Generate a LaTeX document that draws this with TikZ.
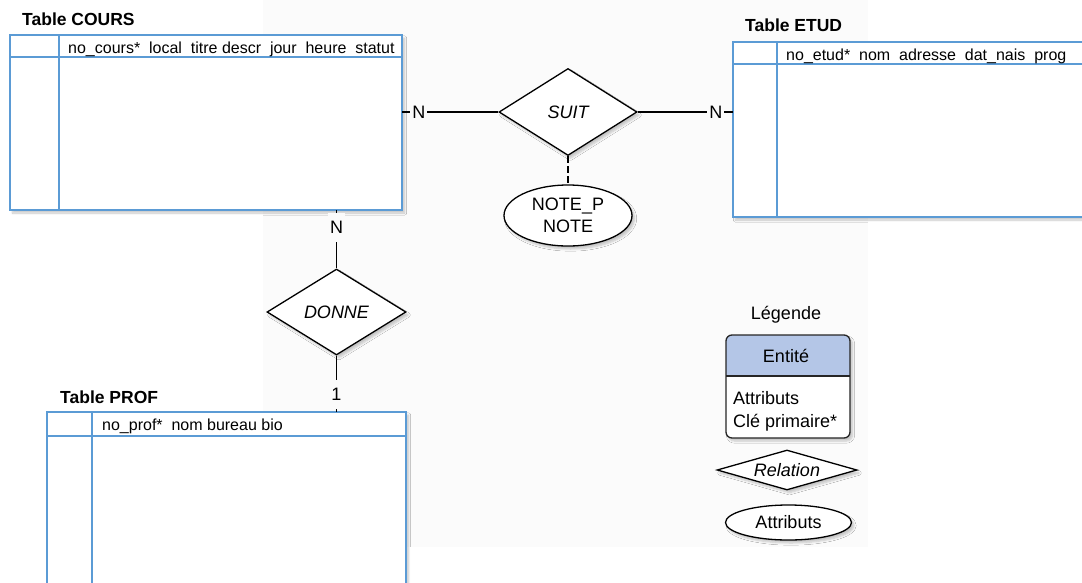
\documentclass[tikz,border=0pt]{standalone}
\usepackage{fontspec}
\setmainfont{Liberation Sans}
\usetikzlibrary{shapes.geometric,shadows.blur,calc}

\definecolor{tblue}{RGB}{91,155,213}
\definecolor{entfill}{RGB}{180,198,231}
\definecolor{pane}{RGB}{251,251,251}

\begin{document}
\begin{tikzpicture}[x=1pt,y=-1pt,
  softshadow/.style={blur shadow={shadow xshift=2.5pt, shadow yshift=-3pt, shadow blur steps=6, shadow opacity=22}},
  tablebox/.style={rectangle, draw=tblue, line width=1.4pt, fill=white,
    inner sep=0pt, outer sep=0pt, softshadow},
  tline/.style={draw=tblue, line width=1.4pt},
  ttitle/.style={anchor=base west, inner sep=0pt, font=\fontsize{17.5}{21}\selectfont\bfseries},
  hdr/.style={anchor=base west, inner sep=0pt, font=\fontsize{16}{19}\selectfont},
  rel/.style={diamond, draw=black, line width=1.3pt, fill=white, inner sep=0pt,
    aspect=3, font=\fontsize{18}{21.6}\selectfont\itshape, softshadow},
  attr/.style={ellipse, draw=black, line width=1.3pt, fill=white, inner sep=0pt,
    align=center, font=\fontsize{18}{21.6}\selectfont, softshadow},
  conn/.style={draw=black, line width=1.4pt},
  card/.style={fill=pane, inner xsep=2pt, inner ysep=8.5pt, font=\fontsize{18}{21.6}\selectfont},
  leg/.style={inner sep=0pt, font=\fontsize{18}{21.6}\selectfont},
  legline/.style={draw=black!85, line width=1.3pt},
]
\useasboundingbox (0,0) rectangle (1082,582);
\clip (0,0) rectangle (1082,582);

% faint backdrop behind the middle of the sheet
\fill[pane] (263,0) rectangle (868,547);

% ---- tables ----
\node[tablebox, minimum width=392pt, minimum height=175pt] (cours) at (206,122.5) {};
\draw[tline] ($(cours.north west)+(0,22)$) -- ($(cours.north east)+(0,22)$);
\draw[tline] ($(cours.north west)+(49,0)$) -- ($(cours.south west)+(49,0)$);
\node[ttitle] (courst) at (22,25) {Table COURS};
\node[hdr] (coursh) at (68,53) {no\_cours*~~local~~titre descr~~jour~~heure~~statut};

\node[tablebox, minimum width=367pt, minimum height=175pt] (etud) at (916.5,129.5) {};
\draw[tline] ($(etud.north west)+(0,22)$) -- ($(etud.north east)+(0,22)$);
\draw[tline] ($(etud.north west)+(44,0)$) -- ($(etud.south west)+(44,0)$);
\node[ttitle] (etudt) at (745,31) {Table ETUD};
\node[hdr] (etudh) at (786,60) {no\_etud*~~nom~~adresse~~dat\_nais~~prog};

\node[tablebox, minimum width=359pt, minimum height=188pt] (prof) at (226.5,506) {};
\draw[tline] ($(prof.north west)+(0,24)$) -- ($(prof.north east)+(0,24)$);
\draw[tline] ($(prof.north west)+(45,0)$) -- ($(prof.south west)+(45,0)$);
\node[ttitle] (proft) at (60,403) {Table PROF};
\node[hdr] (profh) at (102,430.5) {no\_prof*~~nom bureau bio};

% ---- relations and attributes ----
\node[rel, minimum width=138pt, minimum height=87pt] (suit) at (568,112) {SUIT};
\node[attr, minimum width=128pt, minimum height=61pt] (note) at (568,215.5) {NOTE\_P\\NOTE};
\node[rel, minimum width=139pt, minimum height=86pt] (donne) at (336.5,312) {DONNE};

% ---- connectors ----
\draw[conn] (cours.east |- suit.west) -- node[card, pos=0.175] {N} (suit.west);
\draw[conn] (suit.east) -- node[card, pos=0.82] {N} (suit.east -| etud.west);
\draw[conn, dash pattern=on 7pt off 3pt] (suit.south) -- (note.north);
\draw[conn] (cours.south -| donne.north) -- node[card, pos=0.305] {N} (donne.north);
\draw[conn] (donne.south) -- node[card, pos=0.684] {1} (donne.south |- prof.north);

% ---- legend ----
\node[leg, anchor=base] (legt) at (786,319) {Légende};
\node[inner sep=0pt, outer sep=0pt, minimum width=124pt, minimum height=103pt,
  rounded corners=6pt, fill=white, softshadow] (ent) at (788,386.5) {};
\begin{scope}
  \clip[rounded corners=6pt] (ent.north west) rectangle (ent.south east);
  \fill[entfill] (ent.north west) rectangle ($(ent.north east)+(0,41)$);
\end{scope}
\draw[legline] ($(ent.north west)+(0,41)$) -- ($(ent.north east)+(0,41)$);
\draw[legline, rounded corners=6pt] (ent.north west) rectangle (ent.south east);
\node[leg, anchor=base] (entt) at (786,362.5) {Entité};
\node[leg, anchor=base west] (enta) at (733,404) {Attributs};
\node[leg, anchor=base west] (entk) at (733,427) {Clé primaire*};

\node[rel, aspect=3.5, minimum width=140pt, minimum height=40pt] (legrel) at (787,470) {Relation};
\node[attr, minimum width=126pt, minimum height=35pt] (legattr) at (788.5,522.5) {Attributs};
\end{tikzpicture}
\end{document}
